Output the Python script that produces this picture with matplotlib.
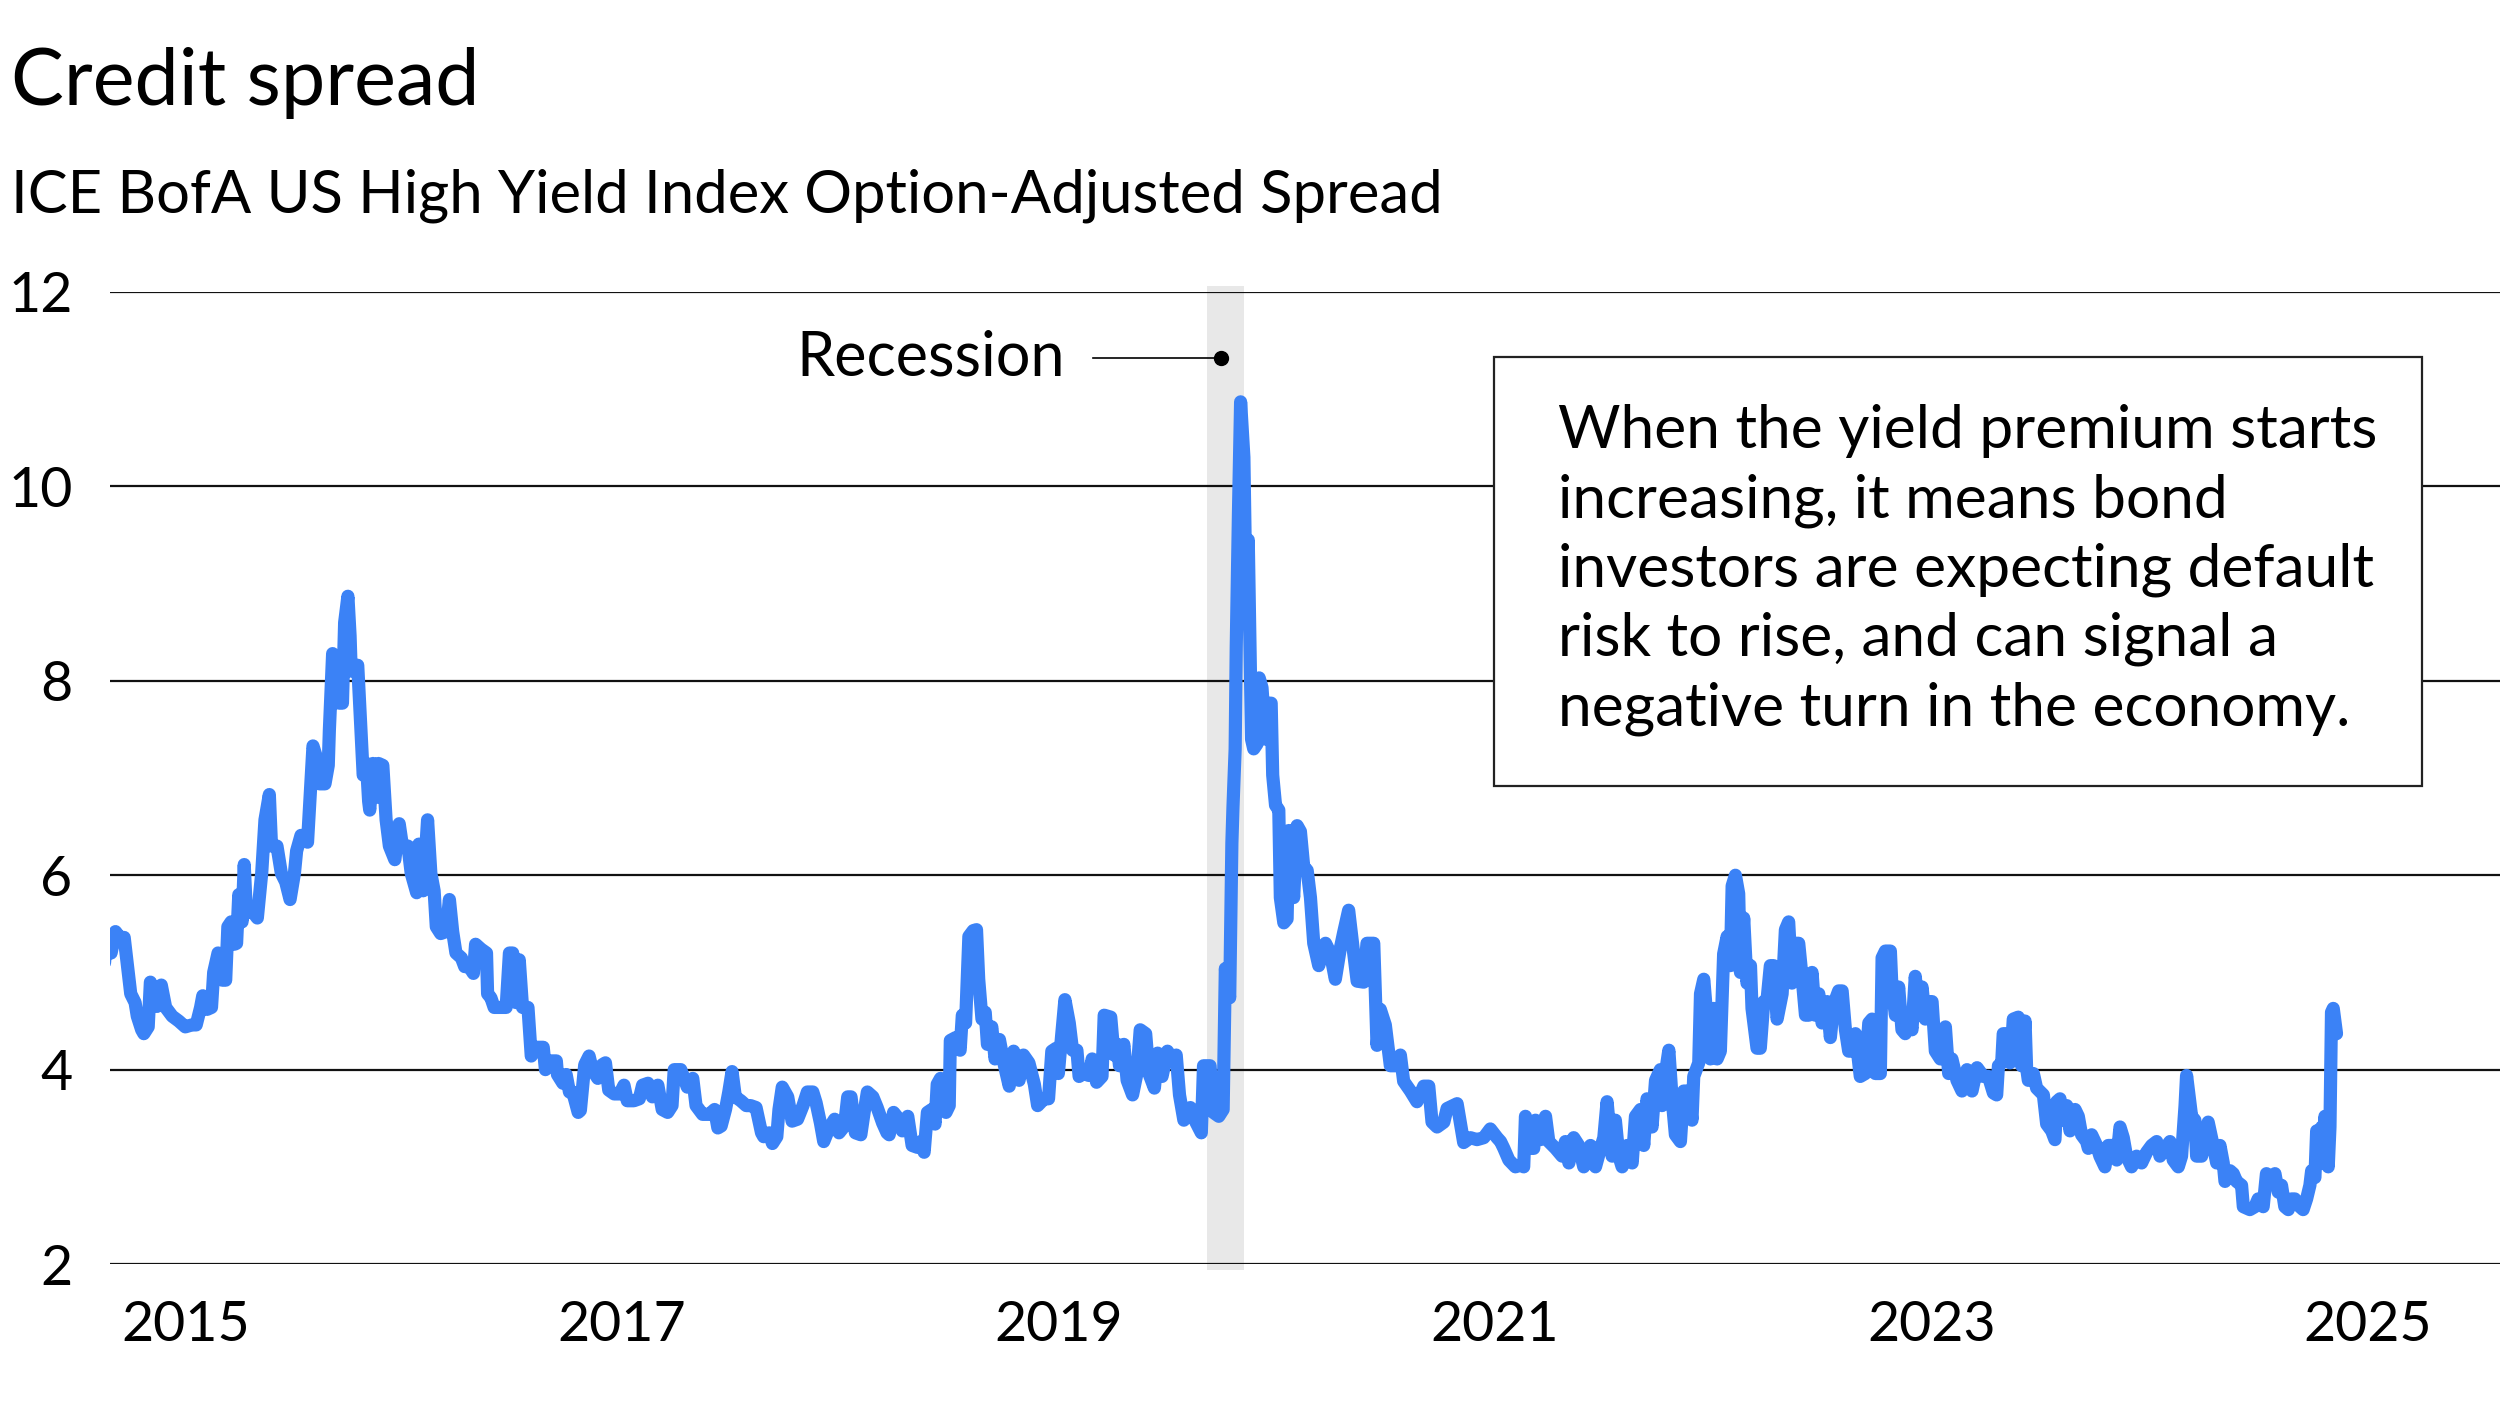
import matplotlib
matplotlib.use("Agg")
import matplotlib.pyplot as plt
from matplotlib.patches import Rectangle

plt.rcParams['font.family'] = ['Lato', 'DejaVu Sans']

# ICE BofA US HY OAS (decimal year, percent)
yrs = [
    2015.02, 2015.03, 2015.05, 2015.07, 2015.09, 2015.11, 2015.14, 2015.16, 2015.17, 2015.19,
    2015.20, 2015.22, 2015.23, 2015.26, 2015.28, 2015.30, 2015.33, 2015.36, 2015.39, 2015.42,
    2015.44, 2015.46, 2015.47, 2015.49, 2015.51, 2015.52, 2015.54, 2015.56, 2015.575, 2015.585,
    2015.60, 2015.615, 2015.625, 2015.635, 2015.65, 2015.66, 2015.67, 2015.69, 2015.72, 2015.74,
    2015.755, 2015.775, 2015.785, 2015.81, 2015.83, 2015.85, 2015.87, 2015.89, 2015.90, 2015.92,
    2015.95, 2015.975, 2015.99, 2016.005, 2016.03, 2016.045, 2016.05, 2016.065, 2016.08, 2016.095,
    2016.11, 2016.12, 2016.135, 2016.145, 2016.15, 2016.18, 2016.195, 2016.205, 2016.22, 2016.23,
    2016.235, 2016.25, 2016.265, 2016.275, 2016.295, 2016.31, 2016.325, 2016.35, 2016.37, 2016.385,
    2016.41, 2016.425, 2016.45, 2016.46, 2016.48, 2016.50, 2016.515, 2016.53, 2016.54, 2016.56,
    2016.585, 2016.60, 2016.615, 2016.63, 2016.655, 2016.67, 2016.69, 2016.71, 2016.72, 2016.745,
    2016.77, 2016.775, 2016.79, 2016.805,
    2016.84, 2016.86, 2016.875, 2016.89, 2016.905, 2016.92, 2016.935, 2016.96, 2016.975, 2017.00,
    2017.03, 2017.04, 2017.065, 2017.09, 2017.095, 2017.12, 2017.135, 2017.15, 2017.165, 2017.19,
    2017.20, 2017.22, 2017.24, 2017.255, 2017.28, 2017.30, 2017.315, 2017.33, 2017.355, 2017.38,
    2017.40, 2017.415, 2017.445, 2017.47, 2017.485, 2017.51, 2017.53, 2017.555, 2017.575, 2017.60,
    2017.62, 2017.63, 2017.66, 2017.69, 2017.715, 2017.73, 2017.76, 2017.79, 2017.815, 2017.83,
    2017.845, 2017.865, 2017.88, 2017.895, 2017.91, 2017.935, 2017.96, 2017.98, 2018.005, 2018.03,
    2018.04, 2018.065, 2018.08, 2018.10, 2018.11, 2018.125, 2018.15, 2018.17, 2018.195, 2018.22,
    2018.24, 2018.265, 2018.28, 2018.30, 2018.315, 2018.34, 2018.365, 2018.385, 2018.41, 2018.425,
    2018.44, 2018.46, 2018.485, 2018.50, 2018.515, 2018.54, 2018.56, 2018.585, 2018.605,
    2018.615, 2018.635, 2018.66, 2018.675, 2018.70, 2018.72, 2018.745, 2018.76, 2018.775, 2018.79,
    2018.81, 2018.825, 2018.835, 2018.85, 2018.875, 2018.89, 2018.895, 2018.92, 2018.94, 2018.95,
    2018.965, 2018.98, 2019.00, 2019.015, 2019.025, 2019.04, 2019.055, 2019.065, 2019.085, 2019.10,
    2019.12, 2019.14, 2019.165, 2019.185, 2019.21, 2019.23, 2019.255, 2019.28, 2019.295, 2019.325,
    2019.345, 2019.36, 2019.38, 2019.39, 2019.405, 2019.42, 2019.44, 2019.455, 2019.475, 2019.485,
    2019.505, 2019.53, 2019.545, 2019.565, 2019.59, 2019.60, 2019.63, 2019.645, 2019.66, 2019.67,
    2019.69, 2019.705, 2019.73, 2019.75, 2019.765, 2019.79, 2019.805, 2019.83, 2019.845, 2019.865,
    2019.89, 2019.91, 2019.93, 2019.945, 2019.965, 2019.995, 2020.02, 2020.045, 2020.055, 2020.085,
    2020.10, 2020.125, 2020.145, 2020.155, 2020.175, 2020.185,
    2020.19, 2020.20, 2020.205, 2020.215, 2020.225, 2020.24, 2020.25, 2020.26, 2020.275, 2020.285,
    2020.30, 2020.31, 2020.323, 2020.339, 2020.354, 2020.365, 2020.372, 2020.385, 2020.40, 2020.407,
    2020.423, 2020.438, 2020.446, 2020.468, 2020.484, 2020.499, 2020.514, 2020.53, 2020.545, 2020.56,
    2020.583, 2020.614, 2020.636, 2020.659, 2020.682, 2020.697, 2020.72, 2020.743, 2020.759, 2020.789,
    2020.804, 2020.835, 2020.85, 2020.865, 2020.888, 2020.911, 2020.934, 2020.957, 2020.972, 2021.003,
    2021.033, 2021.064, 2021.087, 2021.102, 2021.125, 2021.156, 2021.171, 2021.217, 2021.247, 2021.278,
    2021.308, 2021.339, 2021.369, 2021.40,
    2021.416, 2021.431, 2021.454, 2021.484, 2021.51, 2021.522, 2021.53, 2021.553, 2021.568, 2021.576,
    2021.599, 2021.622, 2021.637, 2021.668, 2021.698, 2021.713, 2021.729, 2021.751, 2021.774, 2021.797,
    2021.828, 2021.851, 2021.874, 2021.889, 2021.904, 2021.927, 2021.942, 2021.958, 2021.973, 2021.996,
    2022.019, 2022.034, 2022.057, 2022.072, 2022.087, 2022.11, 2022.126, 2022.148, 2022.156, 2022.171,
    2022.187, 2022.202, 2022.217, 2022.24, 2022.255, 2022.278, 2022.293, 2022.301, 2022.324, 2022.332,
    2022.347, 2022.37, 2022.377, 2022.393, 2022.408, 2022.423, 2022.438, 2022.454, 2022.469, 2022.477,
    2022.492, 2022.507, 2022.515, 2022.53, 2022.545, 2022.561, 2022.568, 2022.591, 2022.606, 2022.622,
    2022.637, 2022.652, 2022.667, 2022.683, 2022.706, 2022.721, 2022.736, 2022.751, 2022.767, 2022.782,
    2022.797, 2022.813, 2022.828, 2022.843, 2022.858, 2022.874, 2022.889, 2022.912, 2022.927, 2022.942,
    2022.965, 2022.981, 2022.996, 2023.011, 2023.026, 2023.042, 2023.064, 2023.087, 2023.103, 2023.118,
    2023.133, 2023.156, 2023.164, 2023.179, 2023.202, 2023.209, 2023.225, 2023.24, 2023.255, 2023.27,
    2023.286, 2023.301, 2023.316, 2023.332, 2023.347, 2023.362, 2023.377, 2023.393, 2023.408, 2023.431,
    2023.454, 2023.469, 2023.484, 2023.507, 2023.53, 2023.553, 2023.576, 2023.599,
    2023.628, 2023.651, 2023.674, 2023.689, 2023.697, 2023.712, 2023.719, 2023.742, 2023.75, 2023.758,
    2023.765, 2023.788, 2023.803, 2023.819, 2023.826, 2023.834, 2023.857, 2023.872, 2023.903, 2023.918,
    2023.941, 2023.956, 2023.964, 2023.979, 2023.994, 2024.01, 2024.025, 2024.048, 2024.063, 2024.078,
    2024.101, 2024.109, 2024.124, 2024.147, 2024.162, 2024.185, 2024.2, 2024.223, 2024.239, 2024.254,
    2024.269, 2024.284, 2024.307, 2024.33, 2024.353, 2024.376, 2024.399, 2024.422, 2024.437, 2024.46,
    2024.483, 2024.498, 2024.521, 2024.536, 2024.552, 2024.559, 2024.582, 2024.597, 2024.605, 2024.628,
    2024.643, 2024.658, 2024.681, 2024.697, 2024.712, 2024.727, 2024.735, 2024.758, 2024.773, 2024.788,
    2024.811, 2024.819, 2024.849, 2024.872, 2024.887, 2024.91, 2024.925, 2024.948, 2024.964, 2024.979,
    2024.994, 2025.009, 2025.025, 2025.04, 2025.055, 2025.078, 2025.093, 2025.109, 2025.124, 2025.132,
    2025.147, 2025.155, 2025.17, 2025.178, 2025.185, 2025.193, 2025.208, 2025.216, 2025.223, 2025.231,
    2025.246,
]
oas = [
    5.10, 5.38, 5.20, 5.42, 5.36, 5.36, 4.78, 4.69, 4.55, 4.41,
    4.37, 4.44, 4.90, 4.65, 4.87, 4.64, 4.55, 4.50, 4.44, 4.46,
    4.46, 4.64, 4.76, 4.62, 4.64, 5.00, 5.20, 4.92, 4.92, 5.47,
    5.52, 5.29, 5.30, 5.80, 5.52, 6.11, 5.61, 5.65, 5.56, 6.02,
    6.57, 6.83, 6.30, 6.30, 6.02, 5.93, 5.75, 6.02, 6.25, 6.41,
    6.34, 7.33, 7.22, 6.94, 6.94, 7.13, 7.49, 8.28, 8.10, 7.77,
    7.77, 8.60, 8.87, 8.46, 8.10, 8.16, 7.49, 7.03, 7.15, 6.76,
    6.67, 7.15, 6.80, 7.15, 7.13, 6.57, 6.30, 6.16, 6.53, 6.30,
    6.30, 6.02, 5.82, 6.32, 5.84, 6.57, 6.02, 5.84, 5.47, 5.40,
    5.42, 5.75, 5.42, 5.20, 5.15, 5.06, 5.06, 4.99, 5.29, 5.24,
    5.20, 4.78, 4.74, 4.64,
    4.64, 4.64, 5.20, 5.20, 4.69, 5.13, 4.64, 4.64, 4.14, 4.23,
    4.23, 4.00, 4.09, 4.09, 3.95, 3.86, 3.95, 3.77, 3.77, 3.56,
    3.58, 4.05, 4.14, 4.00, 3.91, 4.05, 4.07, 3.79, 3.75, 3.75,
    3.84, 3.68, 3.68, 3.70, 3.84, 3.86, 3.72, 3.84, 3.59, 3.56,
    3.63, 4.00, 4.00, 3.82, 3.91, 3.63, 3.54, 3.54, 3.59, 3.40,
    3.42, 3.59, 3.77, 3.98, 3.72, 3.68, 3.63, 3.63, 3.61, 3.35,
    3.31, 3.35, 3.24, 3.31, 3.59, 3.82, 3.72, 3.47, 3.49, 3.63,
    3.77, 3.77, 3.66, 3.45, 3.26, 3.40, 3.49, 3.35, 3.42, 3.72,
    3.72, 3.35, 3.33, 3.56, 3.77, 3.72, 3.61, 3.45, 3.35,
    3.33, 3.56, 3.49, 3.37, 3.52, 3.22, 3.20, 3.26, 3.15, 3.56,
    3.59, 3.44, 3.85, 3.91, 3.56, 3.63, 4.30, 4.33, 4.20, 4.56,
    4.48, 5.37, 5.43, 5.44, 4.93, 4.52, 4.59, 4.26, 4.44, 4.11,
    4.31, 4.07, 3.83, 4.19, 3.89, 4.15, 4.07, 3.85, 3.63, 3.70,
    3.70, 4.19, 4.22, 3.96, 4.35, 4.72, 4.48, 4.20, 4.20, 3.93,
    3.96, 3.94, 4.11, 3.87, 3.93, 4.56, 4.54, 4.15, 4.26, 4.04,
    4.26, 3.89, 3.74, 3.96, 4.41, 4.37, 3.96, 3.81, 4.17, 3.93,
    4.19, 4.11, 4.15, 3.74, 3.48, 3.61, 3.46, 3.35, 4.04, 4.04,
    3.56, 3.52, 3.59, 5.04, 4.74, 6.33,
    6.70, 7.30, 8.35, 9.71, 10.87, 10.30, 8.80, 9.45, 7.40, 7.30,
    7.35, 8.03, 7.93, 7.40, 7.77, 7.77, 7.03, 6.72, 6.67, 5.77,
    5.51, 5.55, 6.46, 5.77, 6.51, 6.45, 6.09, 6.05, 5.77, 5.30,
    5.07, 5.30, 5.20, 4.93, 5.25, 5.41, 5.64, 5.20, 4.91, 4.90,
    5.30, 5.30, 4.25, 4.62, 4.46, 4.04, 4.04, 4.15, 3.88, 3.78,
    3.67, 3.83, 3.83, 3.46, 3.41, 3.46, 3.60, 3.65, 3.25, 3.30,
    3.28, 3.30, 3.39, 3.30,
    3.26, 3.19, 3.07, 3.00, 3.02, 3.00, 3.52, 3.19, 3.19, 3.48,
    3.28, 3.52, 3.26, 3.19, 3.11, 3.26, 3.04, 3.30, 3.22, 3.00,
    3.22, 3.00, 3.19, 3.30, 3.67, 3.11, 3.48, 3.11, 3.00, 3.22,
    3.04, 3.52, 3.59, 3.22, 3.70, 3.41, 3.89, 4.00, 3.63, 3.96,
    4.20, 3.70, 3.33, 3.26, 3.78, 3.78, 3.48, 3.93, 4.07, 4.78,
    4.93, 4.30, 4.11, 4.63, 4.11, 4.19, 5.19, 5.37, 5.07, 5.89,
    6.00, 5.81, 5.00, 5.56, 4.89, 5.07, 4.63, 4.22, 4.22, 4.70,
    4.72, 5.07, 5.07, 4.52, 4.78, 5.44, 5.52, 4.89, 5.30, 5.30,
    4.96, 4.56, 4.56, 5.00, 4.56, 4.78, 4.48, 4.70, 4.33, 4.67,
    4.81, 4.81, 4.41, 4.19, 4.19, 4.37, 3.93, 3.96, 4.48, 4.52,
    3.96, 3.96, 5.15, 5.22, 5.22, 4.85, 4.56, 4.85, 4.41, 4.37,
    4.56, 4.41, 4.96, 4.56, 4.85, 4.52, 4.70, 4.70, 4.19, 4.11,
    4.44, 3.96, 4.11, 3.89, 3.78, 4.00, 3.78, 4.02,
    3.93, 3.93, 3.76, 3.74, 4.04, 4.07, 4.37, 4.37, 4.07, 4.26,
    4.52, 4.54, 4.04, 4.50, 4.02, 3.89, 3.96, 3.81, 3.74, 3.44,
    3.37, 3.28, 3.67, 3.70, 3.48, 3.63, 3.37, 3.59, 3.52, 3.33,
    3.26, 3.19, 3.33, 3.22, 3.11, 3.00, 3.22, 3.22, 3.07, 3.41,
    3.30, 3.11, 3.00, 3.11, 3.04, 3.15, 3.22, 3.26, 3.11, 3.19,
    3.26, 3.07, 3.00, 3.11, 3.63, 3.94, 3.52, 3.48, 3.11, 3.11,
    3.30, 3.46, 3.22, 3.04, 3.22, 3.04, 2.85, 2.96, 2.93, 2.85,
    2.81, 2.59, 2.56, 2.59, 2.67, 2.59, 2.93, 2.89, 2.93, 2.74,
    2.81, 2.59, 2.56, 2.67, 2.67, 2.59, 2.56, 2.67, 2.81, 2.96,
    2.89, 3.37, 3.11, 3.41, 3.04, 3.52, 3.00, 3.41, 4.59, 4.63,
    4.37,
]

recession = (2020.07, 2020.24)  # Feb - Mar 2020
year_ticks = [2015, 2017, 2019, 2021, 2023, 2025]
y_ticks = [2, 4, 6, 8, 10, 12]

note_lines = [
    "When the yield premium starts",
    "increasing, it means bond",
    "investors are expecting default",
    "risk to rise, and can signal a",
    "negative turn in the economy.",
]

fig = plt.figure(figsize=(25, 14.23), dpi=100)
ax = fig.add_axes([0.044, 0.1117, 0.956, 0.6831])

ax.axvspan(recession[0], recession[1], ymin=-0.006, ymax=1.006,
           color="#e8e8e8", lw=0, zorder=0, clip_on=False)
for yv in y_ticks:
    ax.axhline(yv, color="#111111", lw=1.6, zorder=1)

ax.plot(yrs, oas, color="#3b82f6", lw=9.5, solid_joinstyle="round",
        solid_capstyle="round", zorder=3)

ax.set_xlim(2015.045, 2025.995)
ax.set_ylim(2, 12)
ax.set_yticks(y_ticks)
ax.set_yticklabels([str(v) for v in y_ticks])
ax.set_xticks([y + 0.39 for y in year_ticks])
ax.set_xticklabels([str(y) for y in year_ticks])
ax.tick_params(axis="both", length=0, labelsize=40, colors="black")
ax.tick_params(axis="y", pad=27)
ax.tick_params(axis="x", pad=26)
for s in ax.spines.values():
    s.set_visible(False)

# recession callout
ax.plot([2019.55, 2020.133], [11.32, 11.32], color="black", lw=1.2, zorder=4)
ax.plot([2020.133], [11.32], "o", color="black", ms=10, zorder=4)
ax.text(2019.42, 11.32, "Recession", ha="right", va="center", fontsize=44, color="black")

# note box
fig.patches.append(Rectangle((0.5976, 0.4476), 0.3712, 0.3015, transform=fig.transFigure,
                             facecolor="white", edgecolor="#222222", lw=1.6, zorder=5))
for i, line in enumerate(note_lines):
    fig.text(0.6232, 0.6852 - i * 0.0487, line, ha="left", va="baseline",
             fontsize=43.5, color="black", zorder=6)

fig.text(0.0045, 0.926, "Credit spread", ha="left", va="baseline", fontsize=57, color="black")
fig.text(0.0045, 0.851, "ICE BofA US High Yield Index Option-Adjusted Spread",
         ha="left", va="baseline", fontsize=43, color="black")

fig.savefig("out.png", dpi=100, facecolor="white")
